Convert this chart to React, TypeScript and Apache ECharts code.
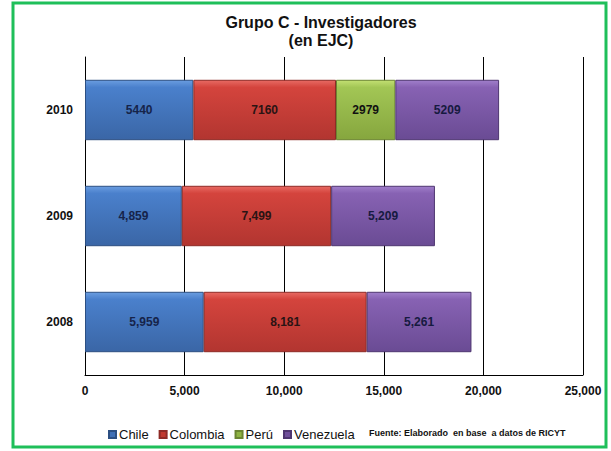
import React, { useEffect, useRef } from "react";
import * as echarts from "echarts";

const years = ["2008", "2009", "2010"];
const chile = [5959, 4859, 5440];
const colombia = [8181, 7499, 7160];
const peru: (number | null)[] = [null, null, 2979];
const venezuela = [5261, 5209, 5209];
const xTicks = [0, 5000, 10000, 15000, 20000, 25000];
const seriesNames = ["Chile", "Colombia", "Perú", "Venezuela"];
const plainYears = ["2010"]; // labels shown without thousands separator

const grad = (top: string, mid: string, bot: string) =>
  new echarts.graphic.LinearGradient(0, 0, 0, 1, [
    { offset: 0, color: top },
    { offset: 0.12, color: mid },
    { offset: 1, color: bot },
  ]);

const fmt = (p: any) => {
  const v = p.value;
  if (v == null || v === "-") return "";
  if (plainYears.includes(p.name)) return String(v);
  return Number(v).toLocaleString("en-US");
};

export default function App() {
  const ref = useRef<HTMLDivElement>(null);
  useEffect(() => {
    if (!ref.current) return;
    const chart = echarts.init(ref.current, undefined, { renderer: "svg" });
    const colors = [
      { legend: "#3f6fb5", g: grad("#6a9de0", "#4a80cc", "#3a66a6"), border: "#2c4f82" },
      { legend: "#c0392f", g: grad("#e86a63", "#d4443d", "#b23530"), border: "#8e2a25" },
      { legend: "#8fb443", g: grad("#c3e073", "#a2c655", "#86a63e"), border: "#6b8531" },
      { legend: "#6f4f9a", g: grad("#a07fcb", "#8762b3", "#6a4b94"), border: "#4e3670" },
    ];
    const datas = [chile, colombia, peru.map((v) => (v == null ? "-" : v)), venezuela];
    const labelColors = ["#16244a", "#2a1414", "#111111", "#161a40"];
    chart.setOption({
      animation: false,
      backgroundColor: "#ffffff",
      title: {
        text: "Grupo C - Investigadores\n(en EJC)",
        left: 316,
        textAlign: "center",
        top: 8,
        textStyle: {
          fontFamily: "Liberation Sans, Arial, sans-serif",
          fontWeight: "bold",
          fontSize: 16,
          lineHeight: 18,
          color: "#111111",
        },
      },
      legend: {
        left: 103,
        top: 423,
        icon: "rect",
        itemWidth: 7,
        itemHeight: 7,
        itemGap: 10,
        data: seriesNames.map((n, i) => ({ name: n, itemStyle: { color: colors[i].legend } })),
        textStyle: {
          fontFamily: "Liberation Sans, Arial, sans-serif",
          fontSize: 13,
          color: "#111111",
          padding: [0, 0, 0, -2],
        },
      },
      grid: { left: 85, right: 28, top: 57, bottom: 76, containLabel: false },
      xAxis: {
        type: "value",
        min: 0,
        max: 25000,
        interval: 5000,
        axisLine: { show: true, lineStyle: { color: "#000000", width: 1 } },
        axisTick: { show: false },
        splitLine: { show: true, lineStyle: { color: "#000000", width: 1 } },
        axisLabel: {
          margin: 10,
          fontFamily: "Liberation Sans, Arial, sans-serif",
          fontWeight: "bold",
          fontSize: 12,
          color: "#111111",
          formatter: (v: number) => (xTicks.includes(v) ? v.toLocaleString("en-US") : ""),
        },
      },
      yAxis: {
        type: "category",
        data: years,
        axisLine: { show: true, lineStyle: { color: "#000000", width: 1 } },
        axisTick: { show: false },
        axisLabel: {
          margin: 12,
          fontFamily: "Liberation Sans, Arial, sans-serif",
          fontWeight: "bold",
          fontSize: 12,
          color: "#111111",
        },
      },
      series: seriesNames.map((n, i) => ({
        name: n,
        type: "bar",
        stack: "total",
        barWidth: "57%",
        data: datas[i],
        itemStyle: {
          color: colors[i].g,
          borderColor: colors[i].border,
          borderWidth: 1,
        },
        label: {
          show: true,
          position: "inside",
          formatter: fmt,
          fontFamily: "Liberation Sans, Arial, sans-serif",
          fontWeight: "bold",
          fontSize: 12,
          color: labelColors[i],
        },
      })),
      graphic: [
        {
          type: "rect",
          shape: { x: 13, y: 3, width: 593, height: 444 },
          style: { fill: "none", stroke: "#1fbf5a", lineWidth: 3 },
          z: 100,
        },
        {
          type: "text",
          left: 369,
          top: 428,
          style: {
            text: "Fuente: Elaborado  en base  a datos de RICYT",
            fontFamily: "Liberation Sans, Arial, sans-serif",
            fontWeight: "bold",
            fontSize: 9,
            fill: "#111111",
          },
        },
      ],
    });
    return () => chart.dispose();
  }, []);
  return (
    <div
      ref={ref}
      style={{ position: "fixed", left: 0, top: 0, width: 611, height: 451 }}
    />
  );
}
